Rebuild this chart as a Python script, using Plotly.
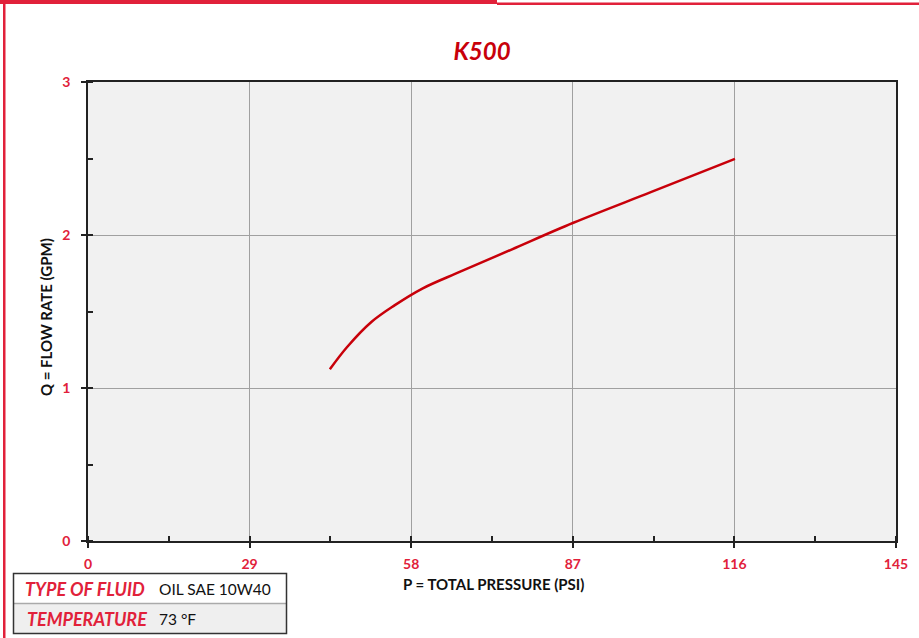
import plotly.graph_objects as go

# Data
pressure_psi = [43.4, 46.5, 50.9, 55.0, 60.0, 66.8, 76.0, 87.1, 101.0, 116.1]
flow_gpm = [1.122, 1.268, 1.433, 1.540, 1.650, 1.760, 1.905, 2.08, 2.28, 2.497]
x_ticks = [0, 29, 58, 87, 116, 145]
y_ticks = [0, 1, 2, 3]
title_text = "K500"
fluid_label, fluid_value = "TYPE OF FLUID", "OIL SAE 10W40"
temp_label, temp_value = "TEMPERATURE", "73 °F"

RED = "#e1213a"
DARKRED = "#c8000a"
FONT = "Lato"

fig = go.Figure()
fig.add_trace(go.Scatter(
    x=pressure_psi, y=flow_gpm, mode="lines",
    line=dict(color=DARKRED, width=2.5, shape="spline", smoothing=1.0),
    hoverinfo="x+y", showlegend=False,
))

axis_common = dict(
    showline=True, linecolor="#222", linewidth=1.5, mirror=True,
    showgrid=True, gridcolor="#a0a0a0", gridwidth=1,
    ticks="outside", ticklen=5, tickcolor="#222", tickwidth=1.5,
    tickfont=dict(family=FONT, size=14, color=RED, weight="bold"),
    zeroline=False,
)

fig.update_xaxes(
    range=[0, 145], tickvals=x_ticks, ticktext=[str(v) for v in x_ticks],
    minor=dict(ticks="inside", ticklen=5, tickcolor="#222", dtick=14.5, tick0=0, showgrid=False),
    ticklabelstandoff=4,
    **axis_common,
)
fig.update_yaxes(
    range=[0, 3], tickvals=y_ticks, ticktext=[str(v) for v in y_ticks],
    minor=dict(ticks="inside", ticklen=5, tickcolor="#222", dtick=0.5, tick0=0, showgrid=False),
    ticklabelstandoff=8,
    **axis_common,
)

L, R, T, B = 88, 23, 82, 97
W, H = 919, 638
pw, ph = W - L - R, H - T - B

def px_x(px):
    return (px - L) / pw

def px_y(py):
    return (H - B - py) / ph

shapes = []
# top red bars and left red line
shapes.append(dict(type="rect", xref="paper", yref="paper",
                   x0=px_x(0), x1=px_x(497), y0=px_y(4), y1=px_y(0),
                   fillcolor=RED, line=dict(width=0), layer="above"))
shapes.append(dict(type="rect", xref="paper", yref="paper",
                   x0=px_x(497), x1=px_x(919), y0=px_y(5), y1=px_y(2.5),
                   fillcolor=RED, line=dict(width=0), layer="above"))
shapes.append(dict(type="rect", xref="paper", yref="paper",
                   x0=px_x(3), x1=px_x(5.5), y0=px_y(638), y1=px_y(0),
                   fillcolor=RED, line=dict(width=0), layer="above"))
# info table
shapes.append(dict(type="rect", xref="paper", yref="paper",
                   x0=px_x(13.5), x1=px_x(286.5), y0=px_y(633.5), y1=px_y(603.5),
                   fillcolor="#efefef", line=dict(width=0)))
shapes.append(dict(type="line", xref="paper", yref="paper",
                   x0=px_x(13.5), x1=px_x(286.5), y0=px_y(603.5), y1=px_y(603.5),
                   line=dict(color="#aaaaaa", width=1.5)))
shapes.append(dict(type="rect", xref="paper", yref="paper",
                   x0=px_x(13.5), x1=px_x(286.5), y0=px_y(633.5), y1=px_y(573.5),
                   line=dict(color="#333", width=1.5)))

annotations = [
    dict(text="P = TOTAL PRESSURE (PSI)", xref="paper", yref="paper",
         x=px_x(493), y=px_y(584), showarrow=False, xanchor="center", yanchor="middle",
         font=dict(family=FONT, size=15, color="#111", weight="bold")),
    dict(text="Q = FLOW RATE (GPM)", xref="paper", yref="paper",
         x=px_x(46), y=px_y(317), showarrow=False, textangle=-90, xanchor="center", yanchor="middle",
         font=dict(family=FONT, size=15, color="#111", weight="bold")),
    dict(text=f"<i>{fluid_label}</i>", xref="paper", yref="paper",
         x=px_x(23), y=px_y(589), showarrow=False, xanchor="left", yanchor="middle",
         font=dict(family=FONT, size=18, color=RED, weight="bold")),
    dict(text=fluid_value, xref="paper", yref="paper",
         x=px_x(157), y=px_y(589), showarrow=False, xanchor="left", yanchor="middle",
         font=dict(family=FONT, size=15.5, color="#111")),
    dict(text=f"<i>{temp_label}</i>", xref="paper", yref="paper",
         x=px_x(25), y=px_y(619), showarrow=False, xanchor="left", yanchor="middle",
         font=dict(family=FONT, size=18, color=RED, weight="bold")),
    dict(text=temp_value, xref="paper", yref="paper",
         x=px_x(157), y=px_y(619), showarrow=False, xanchor="left", yanchor="middle",
         font=dict(family=FONT, size=15.5, color="#111")),
]

fig.update_layout(
    width=W, height=H,
    margin=dict(l=L, r=R, t=T, b=B),
    paper_bgcolor="white", plot_bgcolor="#f1f1f1",
    title=dict(text=f"<i>{title_text}</i>", x=px_x(482), xanchor="center",
               y=1 - 52 / H, yanchor="middle", xref="paper",
               font=dict(family=FONT, size=24, color=DARKRED, weight="bold")),
    shapes=shapes, annotations=annotations,
)

fig.write_html("out.html", config={"displayModeBar": False})

# remove the browser's default body margin so the figure sits at the page origin
with open("out.html", "r", encoding="utf-8") as f:
    html = f.read()
html = html.replace("<body>", '<body style="margin:0;padding:0;overflow:hidden">', 1)
with open("out.html", "w", encoding="utf-8") as f:
    f.write(html)
